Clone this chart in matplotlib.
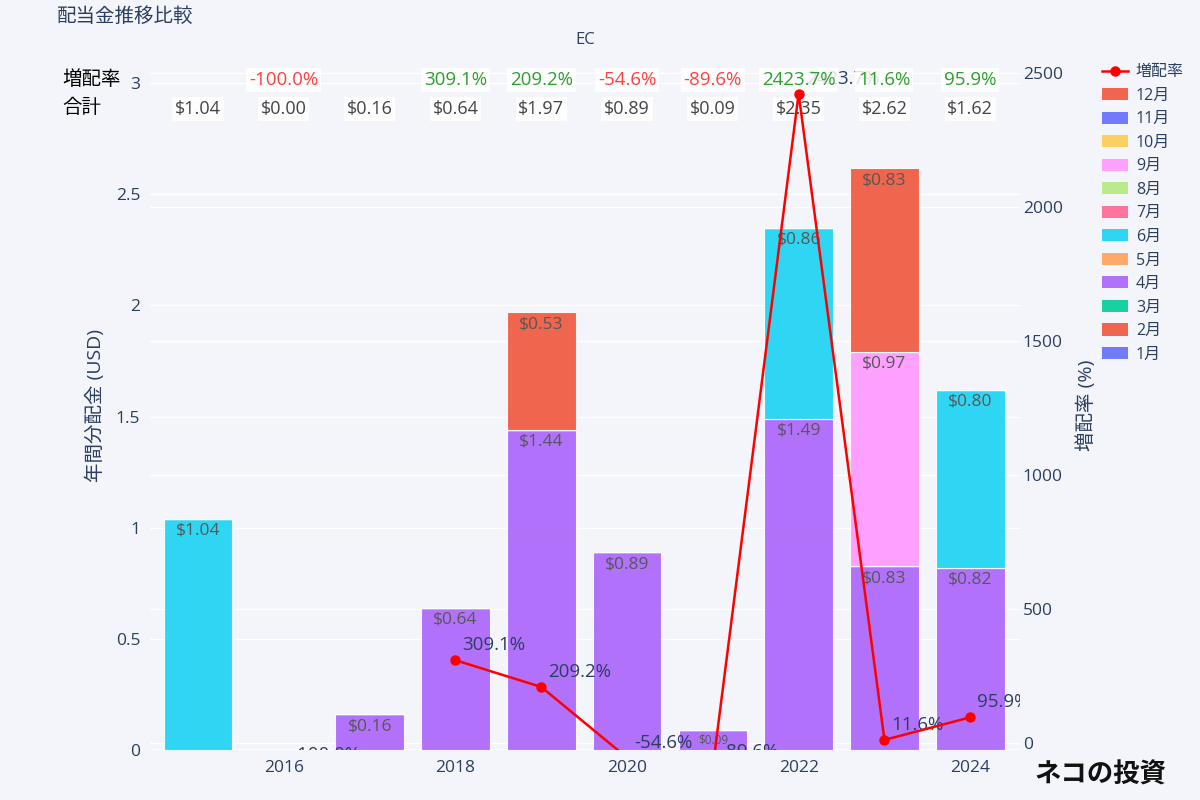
import matplotlib
matplotlib.use("Agg")
import matplotlib.pyplot as plt
import numpy as np
from matplotlib.lines import Line2D
from matplotlib.patches import Patch

plt.rcParams['font.family'] = ['Open Sans', 'Noto Sans CJK JP', 'DejaVu Sans']

years = [2015, 2016, 2017, 2018, 2019, 2020, 2021, 2022, 2023, 2024]
months = ['1月', '2月', '3月', '4月', '5月', '6月', '7月', '8月', '9月', '10月', '11月', '12月']
month_colors = ['#636EFA', '#EF553B', '#00CC96', '#AB63FA', '#FFA15A', '#19D3F3',
                '#FF6692', '#B6E880', '#FF97FF', '#FECB52', '#636EFA', '#EF553B']

# monthly dividends per year (USD)
apr = [0, 0, 0.16, 0.64, 1.44, 0.89, 0.09, 1.49, 0.826, 0.82]
jun = [1.04, 0, 0, 0, 0, 0, 0, 0.86, 0, 0.80]
sep = [0, 0, 0, 0, 0, 0, 0, 0, 0.966, 0]
dec = [0, 0, 0, 0, 0.53, 0, 0, 0, 0.826, 0]
zero = [0] * len(years)
monthly = [zero, zero, zero, apr, zero, jun, zero, zero, sep, zero, zero, dec]

growth = [None, -100.0, None, 309.1, 209.2, -54.6, -89.6, 2423.7, 11.6, 95.9]

bg = '#f4f5fa'
txt = '#2a3f5f'

fig = plt.figure(figsize=(12, 8), dpi=100)
fig.patch.set_facecolor(bg)
pos = [150 / 1200, 50 / 800, 870 / 1200, 690 / 800]
xlim = (2014.44, 2024.58)
y1lim = (0, 3.104)
y2lim = (-26, 2549)

# background axes: right-axis grid behind the bars
axg = fig.add_axes(pos)
axg.set_facecolor(bg)
axg.set_xlim(xlim)
axg.set_ylim(y2lim)
axg.set_yticks(np.arange(0, 2501, 500))
axg.grid(axis='y', color='white', lw=1)
axg.tick_params(left=False, bottom=False, labelleft=False, labelbottom=False)
for s in axg.spines.values():
    s.set_visible(False)

ax = fig.add_axes(pos)
ax.patch.set_visible(False)
ax.set_xlim(xlim)
ax.set_ylim(y1lim)
ax.set_axisbelow(True)
ax.grid(axis='y', color='white', lw=1)
ax.axhline(0, color='white', lw=2, zorder=0.5)

bottom = np.zeros(len(years))
for m, vals, col in zip(months, monthly, month_colors):
    vals = np.array(vals, dtype=float)
    ax.bar(years, vals, width=0.8, bottom=bottom, color=col, alpha=0.9,
           edgecolor='white', linewidth=0.8, label=m)
    for x, b, v in zip(years, bottom, vals):
        if v > 0:
            fs = 12.5 if v > 0.12 else 8.5
            ax.annotate(f'${v:.2f}', xy=(x, b + v), xytext=(0, -4), textcoords='offset pixels',
                        ha='center', va='top', fontsize=fs, color='#585858')
    bottom += vals

ax.set_xticks([2016, 2018, 2020, 2022, 2024])
ax.set_yticks(np.arange(0, 3.01, 0.5))
ax.set_yticklabels(['0', '0.5', '1', '1.5', '2', '2.5', '3'])
ax.tick_params(length=0, labelsize=12.5, colors=txt, pad=7)
ax.set_ylabel('年間分配金 (USD)', fontsize=14, color=txt, labelpad=8)
for s in ax.spines.values():
    s.set_visible(False)

# growth rate line on secondary axis
ax2 = ax.twinx()
ax2.set_position(pos)
ax2.patch.set_visible(False)
ax2.set_ylim(y2lim)
ax2.set_xlim(xlim)
g = np.array([np.nan if v is None else v for v in growth])
ax2.plot(years, g, color='red', lw=1.8, marker='o', ms=6.5, zorder=5, clip_on=True)
for x, v in zip(years, growth):
    if v is None:
        continue
    ax2.annotate(f'{v:.1f}%', xy=(x, v), xytext=(7, 15), textcoords='offset pixels',
                 ha='left', va='center', fontsize=13.5, color=txt,
                 clip_on=True, annotation_clip=False, zorder=3)
ax2.set_yticks(np.arange(0, 2501, 500))
ax2.tick_params(length=0, labelsize=12.5, colors=txt, pad=2)
ax2.set_ylabel('増配率 (%)', fontsize=14, color=txt, labelpad=10)
for s in ax2.spines.values():
    s.set_visible(False)

# top annotation rows (drawn on the top axes so they cover the line labels)
totals = bottom
fig.text(62 / 1200, 1 - 80 / 800, '増配率', fontsize=14, color='black', va='center')
fig.text(62 / 1200, 1 - 108 / 800, '合計', fontsize=14, color='black', va='center')
box = dict(boxstyle='square,pad=0.15', fc='white', ec='none', alpha=0.85)
for x, v, t in zip(years, growth, totals):
    if v is not None:
        c = '#2ca02c' if v >= 0 else '#ff4040'
        ax2.annotate(f'{v:.1f}%', xy=(x, 1 - 80 / 800), xycoords=('data', 'figure fraction'),
                     ha='center', va='center', fontsize=13.5, color=c, bbox=box,
                     annotation_clip=False, zorder=4)
    ax2.annotate(f'${t:.2f}', xy=(x, 1 - 109 / 800), xycoords=('data', 'figure fraction'),
                 ha='center', va='center', fontsize=13, color='#444444', bbox=box,
                 annotation_clip=False, zorder=4)

fig.text(57 / 1200, 1 - 17 / 800, '配当金推移比較', fontsize=14, color=txt, va='center')
fig.text(585 / 1200, 1 - 40 / 800, 'EC', fontsize=12, color=txt, ha='center', va='center')

handles = [Line2D([0], [0], color='red', lw=1.8, marker='o', ms=6.5, label='増配率')]
for m, col in list(zip(months, month_colors))[::-1]:
    handles.append(Patch(facecolor=col, alpha=0.9, label=m))
fig.legend(handles=handles, loc='upper left', bbox_to_anchor=(1088 / 1200, 1 - 50 / 800),
           frameon=False, fontsize=11.5, labelcolor=txt, labelspacing=0.47,
           handlelength=1.6, handleheight=0.8, handletextpad=0.5)

fig.text(1035 / 1200, 1 - 775 / 800, 'ネコの投資', fontsize=19, fontweight='bold',
         color='#111111', ha='left', va='center')

fig.savefig('out.png', dpi=100, facecolor=bg)
